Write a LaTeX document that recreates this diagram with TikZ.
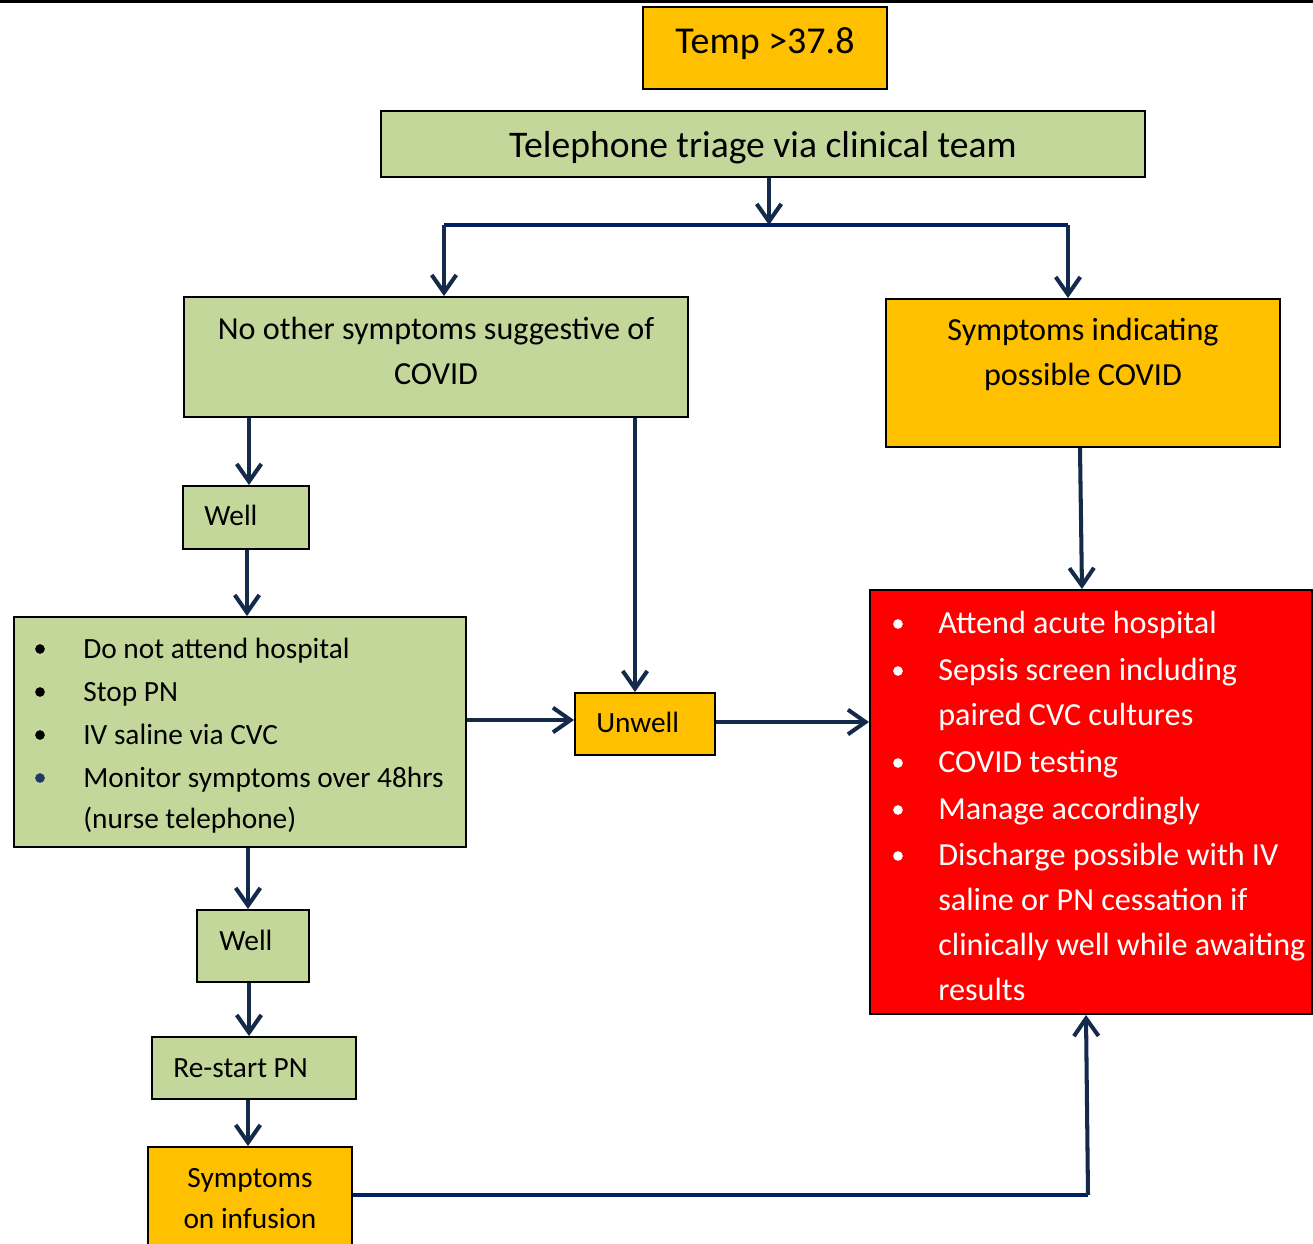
\documentclass[tikz,border=0pt]{standalone}
\usepackage{fontspec}
\setmainfont{Carlito}
\usetikzlibrary{arrows.meta,fit}
\definecolor{gr}{HTML}{C4D79B}
\definecolor{org}{HTML}{FFC000}
\definecolor{rd}{HTML}{FF0000}
\definecolor{arrc}{HTML}{132A4A}
\definecolor{navy}{HTML}{002060}
\definecolor{bdot}{HTML}{1F3864}
\tikzset{
  box/.style={draw=black, line width=1.1pt, inner sep=0pt, fit={#1}},
  arr/.style={draw=arrc, line width=2.3pt, -{Straight Barb[length=10pt,width=14pt,line width=2.3pt]}},
  bar/.style={draw=navy, line width=2.8pt},
  txt/.style={font=\fontsize{16.7pt}{20pt}\selectfont, inner sep=0pt},
  btxt/.style={font=\fontsize{18.3pt}{22pt}\selectfont, inner sep=0pt, anchor=base},
  rtxt/.style={font=\fontsize{18.3pt}{22pt}\selectfont, inner sep=0pt, text=white, anchor=base west},
  bul/.style={circle, fill=black, inner sep=0pt, minimum size=5.5pt},
}
\begin{document}
\begin{tikzpicture}[x=0.02cm,y=-0.02cm]
\useasboundingbox (0,0) rectangle (1313,1244);
\draw[line width=1.7pt] (0,1.5) -- (1313,1.5);
% boxes
\node[box={(643,7) (887,89)}, fill=org] (temp) {};
\node[box={(381,111) (1145,177)}, fill=gr] (triage) {};
\node[box={(184,297) (688,417)}, fill=gr] (noother) {};
\node[box={(886,299) (1280,447)}, fill=org] (sympt) {};
\node[box={(183,486) (309,549)}, fill=gr] (well1) {};
\node[box={(14,617) (466,847)}, fill=gr] (dont) {};
\node[box={(575,693) (715,755)}, fill=org] (unwell) {};
\node[box={(870,590) (1312,1014)}, fill=rd] (acute) {};
\node[box={(197,910) (309,982)}, fill=gr] (well2) {};
\node[box={(152,1037) (356,1099)}, fill=gr] (restart) {};
\node[box={(148,1147) (352,1252)}, fill=org] (infusion) {};
% texts
\node[txt, font=\fontsize{21.6pt}{24pt}\selectfont, anchor=base] (ttemp) at (765,53) {Temp >37.8};
\node[txt, font=\fontsize{21.4pt}{24pt}\selectfont, anchor=base] (ttriage) at (763,157) {Telephone triage via clinical team};
\node[btxt] (tno1) at (436,339) {No other symptoms suggestive of};
\node[btxt] (tno2) at (436,384) {COVID};
\node[btxt] (tsy1) at (1083,340) {Symptoms indicating};
\node[btxt] (tsy2) at (1083,385) {possible COVID};
\node[txt, anchor=base west] (twell1) at (204,525) {Well};
\node[txt, anchor=base west] (td1) at (83,658) {Do not attend hospital};
\node[txt, anchor=base west] (td2) at (83,701) {Stop PN};
\node[txt, anchor=base west] (td3) at (83,744) {IV saline via CVC};
\node[txt, anchor=base west] (td4) at (83,787) {Monitor symptoms over 48hrs};
\node[txt, anchor=base west] (td5) at (83,828) {(nurse telephone)};
\node[bul] (b1) at (40,649) {};
\node[bul] (b2) at (40,692) {};
\node[bul] (b3) at (40,735) {};
\node[bul, fill=bdot] (b4) at (40,778) {};
\node[txt, anchor=base west] (tunwell) at (596,732) {Unwell};
\node[rtxt] (r1) at (938,633) {Attend acute hospital};
\node[rtxt] (r2) at (938,680) {Sepsis screen including};
\node[rtxt] (r3) at (938,725) {paired CVC cultures};
\node[rtxt] (r4) at (938,772) {COVID testing};
\node[rtxt] (r5) at (938,819) {Manage accordingly};
\node[rtxt] (r6) at (938,865) {Discharge possible with IV};
\node[rtxt] (r7) at (938,910) {saline or PN cessation if};
\node[rtxt] (r8) at (938,955) {clinically well while awaiting};
\node[rtxt] (r9) at (938,1000) {results};
\node[bul, fill=white] (w1) at (898,624) {};
\node[bul, fill=white] (w2) at (898,671) {};
\node[bul, fill=white] (w3) at (898,763) {};
\node[bul, fill=white] (w4) at (898,810) {};
\node[bul, fill=white] (w5) at (898,856) {};
\node[txt, anchor=base west] (twell2) at (219,950) {Well};
\node[txt, anchor=base west] (trestart) at (173,1077) {Re-start PN};
\node[txt, anchor=base] (tinf1) at (250,1187) {Symptoms};
\node[txt, anchor=base] (tinf2) at (250,1228) {on infusion};
% connectors
\coordinate (split) at (769,225);
\coordinate (sl) at (444,225);
\coordinate (sr) at (1068,225);
\coordinate (corner) at (1088,1195);
\draw[arr] (triage.south -| split) -- (split);
\draw[bar] (sl) -- (sr);
\draw[arr] (sl) -- (sl |- noother.north);
\draw[arr] (sr) -- (sr |- sympt.north);
\draw[arr] (noother.south -| 249,0) -- (well1.north -| 249,0);
\draw[arr] (well1.south -| 247,0) -- (dont.north -| 247,0);
\draw[arr] (noother.south -| 635,0) -- (unwell.north -| 635,0);
\draw[arr] (dont.east |- 0,720) -- (unwell.west |- 0,720);
\draw[arr] (unwell.east |- 0,722) -- (acute.west |- 0,722);
\draw[arr] (sympt.south -| 1080,0) -- (acute.north -| 1082,0);
\draw[arr] (dont.south -| 248,0) -- (well2.north -| 248,0);
\draw[arr] (well2.south -| 249,0) -- (restart.north -| 249,0);
\draw[arr] (restart.south -| 248,0) -- (infusion.north -| 248,0);
\draw[bar] (infusion.east |- corner) -- (corner);
\draw[arr] (corner) -- (acute.south -| 1086,0);
\end{tikzpicture}
\end{document}
